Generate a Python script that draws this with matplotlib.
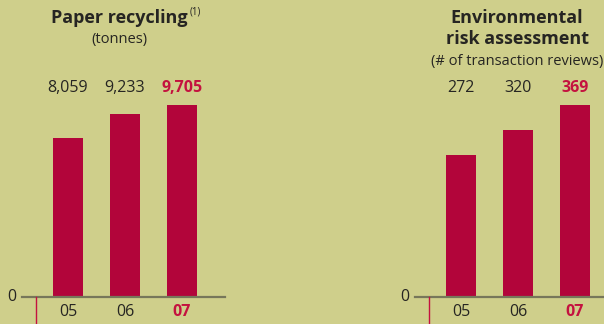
import matplotlib.pyplot as plt
from matplotlib.lines import Line2D
from matplotlib.transforms import blended_transform_factory

# data
years = ["05", "06", "07"]
paper_tonnes = [8059, 9233, 9705]
paper_labels = ["8,059", "9,233", "9,705"]
risk_reviews = [272, 320, 369]
risk_labels = ["272", "320", "369"]

BG = "#cfcf8b"
RED = "#b2053a"
RED_TXT = "#c4123f"
INK = "#262522"
AXIS = "#77775a"

plt.rcParams["font.family"] = ["Open Sans", "DejaVu Sans"]

W, H = 604, 324
fig = plt.figure(figsize=(W / 100, H / 100), dpi=100, facecolor=BG)


def px(x, y):
    return x / W, 1 - y / H


def panel(left, right, values, labels, title_lines, subtitle, title_cx, sup=None):
    base, top = 297, 105
    ax = fig.add_axes([left / W, (H - base) / H, (right - left) / W, (base - 60) / H])
    ax.set_facecolor("none")
    ax.set_ylim(0, max(values) * (base - 60) / (base - top))
    x = range(len(values))
    ax.bar(x, values, width=30 / 57, color=RED, zorder=2)
    ax.set_xlim(-46 / 57, (right - left - 46) / 57)
    for s in ["top", "left", "right"]:
        ax.spines[s].set_visible(False)
    ax.spines["bottom"].set_color(AXIS)
    ax.spines["bottom"].set_linewidth(1.6)
    ax.set_yticks([])
    ax.set_xticks(list(x))
    ax.set_xticklabels(years, fontsize=11.5)
    ax.tick_params(axis="x", length=0, pad=5, colors=INK)
    ax.get_xticklabels()[-1].set_color(RED_TXT)
    ax.get_xticklabels()[-1].set_fontweight("bold")
    # value labels
    tr = blended_transform_factory(ax.transData, fig.transFigure)
    for i, lab in enumerate(labels):
        last = i == len(labels) - 1
        ax.text(i, 1 - 88 / H, lab, transform=tr, ha="center", va="center", fontsize=11.5,
                color=RED_TXT if last else INK, fontweight="bold" if last else "normal")
    # zero label
    fig.text(*px(left - 10, base), "0", ha="center", va="center", fontsize=11.5, color=INK)
    # red marker line
    fig.add_artist(Line2D([(left + 14) / W] * 2, [0, (H - base) / H], color=RED_TXT, lw=1.0))
    # titles
    y = 18
    for t in title_lines:
        fig.text(*px(title_cx, y), t, ha="center", va="center", fontsize=13,
                 fontweight="bold", color=INK)
        y += 21
    if sup:
        fig.text(*px(sup[0], 12), sup[1], ha="left", va="center", fontsize=7, color=INK)
    fig.text(*px(title_cx, y + 1), subtitle, ha="center", va="center",
             fontsize=10.5, color=INK)
    return ax


panel(22, 225, paper_tonnes, paper_labels, ["Paper recycling"], "(tonnes)", 119, sup=(190, "(1)"))
panel(415, 640, risk_reviews, risk_labels, ["Environmental", "risk assessment"],
      "(# of transaction reviews)", 517)

fig.savefig("out.png", dpi=100, facecolor=BG)
